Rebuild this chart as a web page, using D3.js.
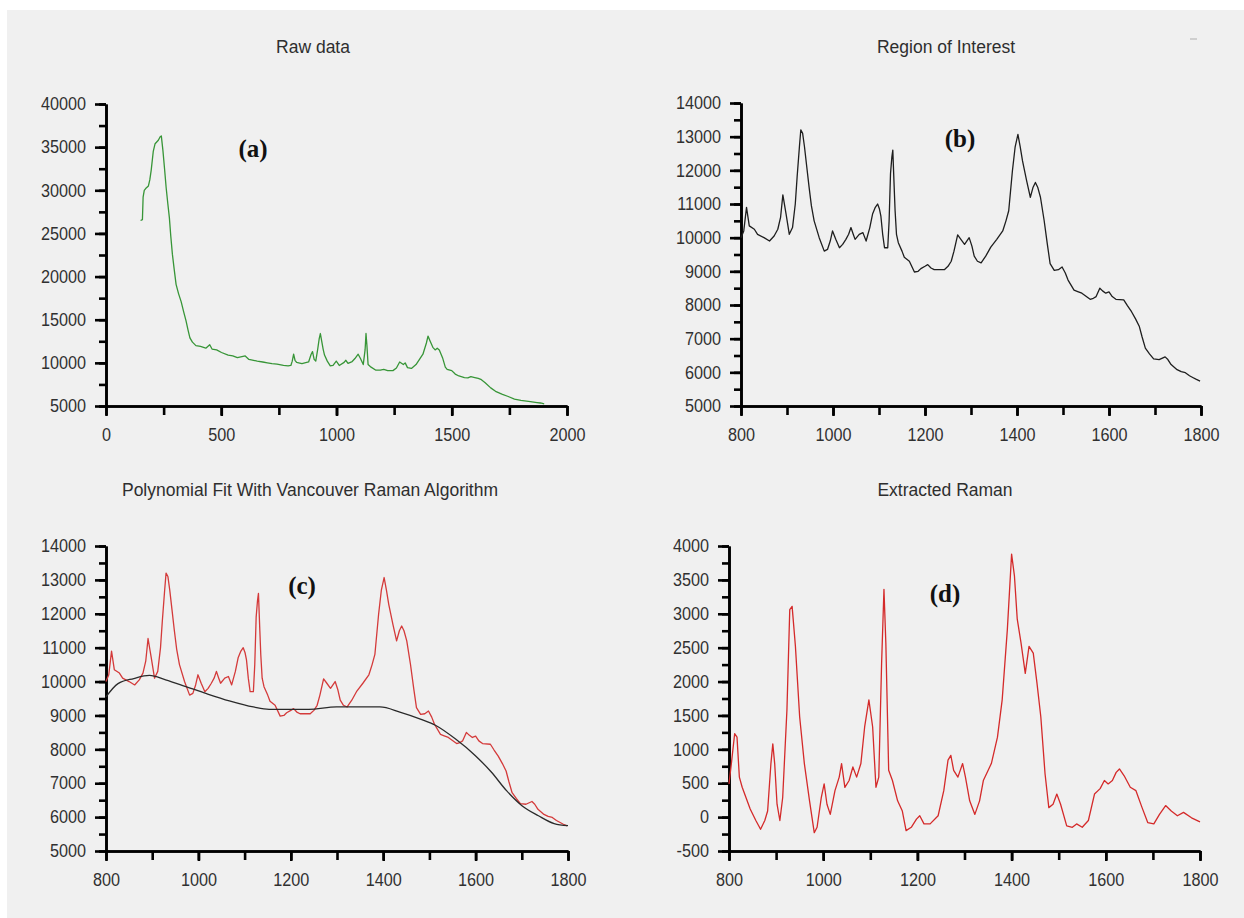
<!DOCTYPE html>
<html>
<head>
<meta charset="utf-8">
<script src="https://cdn.jsdelivr.net/npm/d3@7"></script>
<style>
  body { margin: 0; background: #fff; }
  svg { display: block; }
</style>
</head>
<body>
<svg width="1244" height="918"></svg>
<script>
// Raw spectrum (panel a): wavenumber / counts
const rawWavenumber = [150,158,161,166,172,184,190,196,205,213,220,227,235,240,247,254,261,268,275,281,288,296,304,315,326,337,347,356,364,375,390,410,433,450,460,480,501,530,550,570,585,604,620,640,656,680,700,720,742,770,790,802,808,814,820,827,850,879,890,896,903,910,918,925,930,936,942,948,960,973,985,999,1012,1033,1040,1050,1068,1080,1094,1104,1116,1124,1128,1132,1137,1150,1171,1190,1205,1222,1245,1260,1274,1290,1298,1308,1325,1345,1360,1375,1390,1397,1405,1418,1428,1437,1446,1460,1472,1480,1500,1515,1531,1555,1570,1583,1600,1615,1626,1645,1669,1690,1720,1745,1772,1800,1841,1870,1885,1901];
const rawIntensity  = [26500,26600,29200,30000,30200,30500,31200,32300,34500,35400,35600,35800,36200,36300,34600,32500,30300,28500,26800,24700,22600,20800,19100,18000,17100,15900,14900,13800,12900,12400,12000,11900,11700,12100,11600,11500,11200,10900,10800,10600,10700,10800,10400,10300,10200,10100,10000,9900,9850,9700,9650,9700,10200,11000,10300,10050,9900,10100,11000,11300,10400,10200,11500,12800,13400,12500,11600,10900,10200,9650,9700,10200,9700,10050,10300,9950,10150,10500,11000,10500,9800,11500,13400,12000,9800,9500,9150,9150,9250,9100,9100,9400,10100,9800,10000,9450,9350,9800,10400,11000,12300,13100,12600,11800,11500,11700,11500,10600,9500,9250,9100,8700,8480,8300,8250,8400,8300,8200,8090,7700,7100,6700,6350,6100,5800,5650,5500,5400,5350,5250];

// Region of interest (panels b and c, red trace)
const roiWavenumber = [800,806,812,818,829,836,850,862,872,880,886,891,898,905,912,918,922,927,930,934,938,943,948,953,959,970,981,988,994,999,1006,1014,1021,1028,1034,1039,1044,1048,1057,1065,1072,1080,1086,1092,1097,1101,1104,1108,1112,1119,1122,1125,1128,1130,1133,1135,1138,1142,1150,1155,1166,1177,1185,1191,1200,1206,1213,1220,1242,1250,1257,1263,1271,1278,1286,1296,1302,1307,1314,1322,1332,1343,1356,1369,1376,1382,1390,1396,1402,1407,1412,1421,1429,1435,1440,1445,1451,1459,1466,1472,1481,1490,1498,1505,1511,1524,1532,1541,1559,1566,1572,1580,1586,1593,1600,1607,1615,1632,1640,1649,1658,1666,1672,1679,1688,1697,1709,1722,1728,1735,1748,1757,1766,1775,1783,1790,1798];
const roiIntensity  = [10000,10200,10900,10350,10250,10100,10000,9900,10050,10250,10600,11270,10700,10100,10300,11000,11800,12700,13200,13100,12700,12100,11500,10950,10500,10000,9600,9650,9900,10200,9950,9700,9800,9950,10100,10300,10100,9950,10100,10150,9900,10300,10700,10900,11000,10850,10650,10100,9700,9700,10500,11900,12400,12600,11500,10800,10100,9850,9600,9420,9300,8980,9000,9080,9150,9200,9100,9050,9050,9150,9300,9600,10080,9950,9800,10000,9750,9450,9300,9250,9450,9720,9950,10200,10500,10800,11980,12700,13070,12700,12280,11690,11200,11500,11640,11500,11200,10510,9800,9230,9030,9050,9130,8950,8740,8440,8400,8350,8170,8200,8250,8500,8420,8350,8390,8250,8170,8150,7980,7800,7580,7360,7050,6720,6550,6400,6380,6460,6380,6230,6080,6020,5990,5900,5840,5790,5740];

// Polynomial baseline (panel c, black trace)
const fitWavenumber = [800,826,860,894,929,973,1016,1067,1119,1153,1187,1239,1299,1342,1393,1436,1479,1513,1556,1599,1634,1667,1701,1736,1770,1800];
const fitIntensity  = [9550,9940,10090,10180,10050,9850,9650,9430,9250,9180,9180,9180,9250,9250,9250,9100,8900,8710,8310,7820,7330,6780,6330,6040,5810,5750];

// Extracted Raman (panel d)
const ramanWavenumber = [800,805,812,817,822,828,836,845,857,867,876,882,889,893,897,902,908,914,923,929,934,941,950,960,971,981,987,996,1002,1008,1015,1025,1034,1039,1046,1055,1063,1071,1080,1088,1097,1105,1112,1118,1124,1129,1133,1139,1147,1158,1168,1176,1187,1198,1205,1214,1227,1244,1256,1265,1271,1277,1286,1296,1302,1311,1322,1332,1340,1357,1370,1380,1391,1400,1406,1412,1420,1429,1437,1446,1454,1462,1471,1479,1488,1496,1504,1517,1529,1538,1550,1563,1576,1588,1597,1605,1614,1622,1629,1639,1652,1664,1677,1689,1702,1714,1727,1739,1752,1765,1782,1800];
const ramanIntensity  = [490,790,1230,1180,590,440,290,120,-50,-180,-50,90,790,1080,790,190,-50,290,1580,3060,3110,2520,1480,790,240,-230,-150,290,490,190,40,390,590,790,440,540,740,590,790,1330,1730,1330,440,590,2270,3360,2570,690,540,240,90,-200,-150,-30,20,-100,-100,20,390,840,910,690,590,790,590,240,40,240,540,790,1180,1730,2770,3880,3560,2920,2570,2120,2520,2420,1970,1480,640,140,190,340,190,-130,-150,-100,-150,-50,340,420,540,490,540,660,710,610,440,390,140,-80,-100,40,170,90,20,70,-10,-70];

const panelTitles  = ['Raw data', 'Region of Interest', 'Polynomial Fit With Vancouver Raman Algorithm', 'Extracted Raman'];
const panelLetters = ['(a)', '(b)', '(c)', '(d)'];

const svg = d3.select('svg');

// Window-style grey client area
svg.append('rect').attr('x', 7).attr('y', 10).attr('width', 1237).attr('height', 908).attr('fill', '#f0f0f0');
svg.append('line').attr('x1', 1190).attr('x2', 1197).attr('y1', 39).attr('y2', 39)
    .attr('stroke', '#c4c4c4').attr('stroke-width', 1.5);

// Squeeze glyphs horizontally like the narrow WinForms chart font
function condense(sel, factor) {
    sel.each(function () {
        const w = this.getComputedTextLength();
        d3.select(this).attr('textLength', w * factor).attr('lengthAdjust', 'spacingAndGlyphs');
    });
}

// plain hyphen-minus, as the chart control prints it
const plainNumber = d => String(d);

function drawPanel(p) {
    const x = d3.scaleLinear().domain(p.xDomain).range([p.left, p.right]);
    const y = d3.scaleLinear().domain(p.yDomain).range([p.bottom, p.top]);
    const g = svg.append('g');

    const range = (d, step) => d3.range(d[0], d[1] + step / 2, step);

    // minor ticks
    g.append('g').attr('transform', `translate(${p.left},0)`)
        .call(d3.axisLeft(y).tickValues(range(p.yDomain, p.yMinor)).tickSize(7).tickSizeOuter(0).tickFormat(''));
    g.append('g').attr('transform', `translate(0,${p.bottom})`)
        .call(d3.axisBottom(x).tickValues(range(p.xDomain, p.xMinor)).tickSize(9).tickSizeOuter(0).tickFormat(''));

    // major ticks with labels
    g.append('g').attr('transform', `translate(${p.left},0)`)
        .call(d3.axisLeft(y).tickValues(range(p.yDomain, p.yMajor)).tickSize(11).tickSizeOuter(0).tickPadding(9).tickFormat(plainNumber));
    g.append('g').attr('transform', `translate(0,${p.bottom})`)
        .call(d3.axisBottom(x).tickValues(range(p.xDomain, p.xMajor)).tickSize(10).tickSizeOuter(0).tickPadding(12).tickFormat(plainNumber));

    g.selectAll('.domain, .tick line').attr('stroke', '#000').attr('stroke-width', 2.6);
    g.selectAll('.tick text')
        .attr('font-family', '"Liberation Sans", Arial, sans-serif')
        .attr('font-size', 18).attr('fill', '#303030');
    condense(g.selectAll('.tick text'), 0.9);

    // data lines
    p.series.forEach(s => {
        const pts = s.xs.map((v, i) => [v, s.ys[i]]);
        g.append('path').datum(pts)
            .attr('fill', 'none').attr('stroke', s.color).attr('stroke-width', s.width || 1.3)
            .attr('stroke-linejoin', 'round')
            .attr('d', d3.line().x(d => x(d[0])).y(d => y(d[1])).curve(s.curve || d3.curveLinear));
    });

    // title
    g.append('text').attr('x', p.titleX).attr('y', p.titleY)
        .attr('text-anchor', 'middle').attr('dominant-baseline', 'central')
        .attr('font-family', '"Liberation Sans", Arial, sans-serif').attr('font-size', 17.5)
        .attr('fill', '#2e2e2e').text(p.title);

    // panel letter
    g.append('text').attr('x', p.letterX).attr('y', p.letterY)
        .attr('text-anchor', 'middle').attr('dominant-baseline', 'central')
        .attr('font-family', '"Liberation Serif", "Times New Roman", serif')
        .attr('font-weight', 'bold').attr('font-size', 25).attr('fill', '#111')
        .text(p.letter);
}

drawPanel({
    left: 106, right: 567, top: 104, bottom: 406,
    xDomain: [0, 2000], xMajor: 500, xMinor: 250,
    yDomain: [5000, 40000], yMajor: 5000, yMinor: 2500,
    title: panelTitles[0], titleX: 313, titleY: 47,
    letter: panelLetters[0], letterX: 253, letterY: 148,
    series: [{ xs: rawWavenumber, ys: rawIntensity, color: '#379537' }]
});

drawPanel({
    left: 741, right: 1201, top: 103, bottom: 406,
    xDomain: [800, 1800], xMajor: 200, xMinor: 100,
    yDomain: [5000, 14000], yMajor: 1000, yMinor: 500,
    title: panelTitles[1], titleX: 946, titleY: 47,
    letter: panelLetters[1], letterX: 960, letterY: 138,
    series: [{ xs: roiWavenumber, ys: roiIntensity, color: '#1e1e1e' }]
});

drawPanel({
    left: 106, right: 568, top: 546, bottom: 851,
    xDomain: [800, 1800], xMajor: 200, xMinor: 100,
    yDomain: [5000, 14000], yMajor: 1000, yMinor: 500,
    title: panelTitles[2], titleX: 310, titleY: 490,
    letter: panelLetters[2], letterX: 302, letterY: 585,
    series: [
        { xs: roiWavenumber, ys: roiIntensity, color: '#d43a3a' },
        { xs: fitWavenumber, ys: fitIntensity, color: '#2a2a2a', curve: d3.curveMonotoneX }
    ]
});

drawPanel({
    left: 729, right: 1200, top: 546, bottom: 851,
    xDomain: [800, 1800], xMajor: 200, xMinor: 100,
    yDomain: [-500, 4000], yMajor: 500, yMinor: 250,
    title: panelTitles[3], titleX: 945, titleY: 490,
    letter: panelLetters[3], letterX: 945, letterY: 593,
    series: [{ xs: ramanWavenumber, ys: ramanIntensity, color: '#d42a2a' }]
});
</script>
</body>
</html>
